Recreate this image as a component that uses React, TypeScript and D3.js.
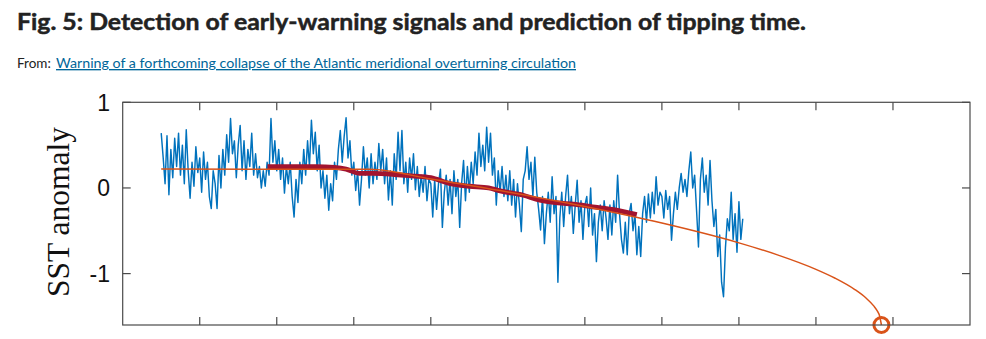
import React from "react";
import * as d3 from "d3";

// ---------- data ----------
const startYear = 1870;
const stepYears = 0.5;
// SST anomaly (fingerprint), half-year samples from 1870.0
const sstValues: number[] = [
  // 1870s
  0.64, 0.36, 0.05, 0.61, -0.08, 0.45, 0.12, 0.58, 0.25, 0.64, 0.15, 0.5, 0.05, 0.68, 0.2, -0.12, 0.3, 0.02, 0.48, 0.18,
  // 1880s
  0.35, -0.05, 0.42, 0.1, 0.3, -0.1, -0.24, 0.2, 0.05, -0.24, 0.38, 0.0, 0.45, 0.15, 0.62, 0.3, 0.81, 0.4, 0.55, 0.12,
  // 1890s
  0.5, 0.73, 0.2, 0.55, 0.1, 0.45, 0.25, 0.64, 0.15, 0.4, 0.12, 0.25, 0.0, 0.2, 0.02, 0.3, 0.15, 0.81, 0.3, 0.55,
  // 1900s
  0.2, 0.45, 0.1, 0.35, -0.06, 0.25, 0.05, 0.3, -0.1, -0.34, 0.1, -0.17, 0.3, 0.05, 0.45, 0.15, 0.55, 0.25, 0.79, 0.4,
  // 1910s
  0.65, 0.2, 0.5, 0.0, 0.2, -0.12, 0.15, -0.26, 0.05, -0.15, 0.3, 0.1, 0.45, 0.67, 0.3, 0.6, 0.82, 0.35, 0.55, 0.15,
  // 1920s
  0.3, -0.03, 0.2, -0.2, 0.1, 0.48, 0.15, 0.35, 0.0, 0.4, 0.05, 0.3, 0.1, 0.52, 0.2, 0.45, 0.05, 0.35, -0.14, 0.2,
  // 1930s
  -0.2, 0.4, 0.1, 0.65, 0.2, 0.67, 0.05, 0.3, -0.05, 0.35, 0.1, 0.4, -0.02, 0.25, -0.1, 0.15, -0.05, 0.25, -0.15, 0.1,
  // 1940s
  0.05, -0.34, 0.1, -0.25, 0.05, 0.22, -0.46, -0.05, 0.15, -0.2, 0.1, -0.3, 0.2, -0.1, 0.1, -0.46, 0.05, 0.32, -0.15, 0.25,
  // 1950s
  -0.05, 0.3, 0.05, 0.42, 0.15, 0.64, 0.25, 0.5, 0.2, 0.71, 0.3, 0.64, 0.15, 0.35, -0.2, 0.2, -0.05, 0.25, -0.1, 0.15,
  // 1960s
  -0.15, 0.2, -0.2, 0.1, -0.34, 0.05, -0.2, -0.51, 0.1, 0.2, 0.48, 0.1, 0.3, -0.1, 0.36, -0.05, -0.25, -0.49, -0.1, -0.65,
  // 1970s
  -0.3, -0.05, -0.4, 0.13, -0.3, -0.1, -1.1, -0.35, -0.05, -0.45, -0.1, 0.15, -0.3, -0.1, -0.53, -0.2, 0.09, -0.4, -0.15, -0.6,
  // 1980s
  -0.2, -0.1, -0.45, 0.0, -0.55, -0.3, -0.86, -0.4, -0.2, -0.5, -0.15, -0.35, -0.6, -0.2, -0.55, -0.15, -0.4, 0.15, -0.3, -0.6,
  // 1990s
  -0.76, -0.4, -0.78, -0.3, -0.18, -0.5, -0.3, -0.78, -0.45, -0.8, -0.3, -0.1, -0.4, -0.07, -0.35, -0.05, -0.3, 0.13, -0.2, -0.05,
  // 2000s
  -0.1, -0.35, -0.03, -0.25, -0.1, -0.61, -0.3, -0.05, -0.25, 0.0, 0.17, -0.05, 0.1, -0.1, 0.2, 0.42, 0.0, 0.15, -0.26, -0.69,
  // 2010s + 2020
  0.1, 0.35, -0.05, 0.15, -0.2, 0.32, -0.15, -0.45, -0.25, -0.8, -0.55, -1.1, -1.27, -0.7, -0.36, -0.5, -0.05, -0.6, -0.3, -0.75,
  -0.16, -0.6, -0.36,
];

// smoothed mean (thick red)
const smoothYears = [1897.6, 1905, 1910, 1915, 1918, 1921.5, 1925, 1930, 1935, 1940, 1945, 1950, 1955, 1958, 1964, 1968, 1973, 1977, 1982, 1987, 1993.5];
const smoothValues = [0.25, 0.25, 0.25, 0.24, 0.22, 0.17, 0.17, 0.16, 0.14, 0.12, 0.05, 0.02, 0.0, -0.035, -0.085, -0.14, -0.175, -0.19, -0.22, -0.25, -0.31];

// fitted model curve (orange)
const fitYears = [1870, 1924, 1940, 1960, 1980, 2000, 2020, 2030, 2040, 2045, 2050, 2053, 2055, 2056, 2056.5, 2057];
const fitValues = [0.22, 0.218, 0.105, -0.047, -0.217, -0.41, -0.641, -0.781, -0.95, -1.054, -1.183, -1.285, -1.377, -1.442, -1.489, -1.6];

// estimated tipping point
const tippingYear = 2057;
const tippingValue = -1.6;

const xTicks = [1880, 1900, 1920, 1940, 1960, 1980, 2000, 2020, 2040, 2060];
const yTicks = [1, 0, -1];
const yTickLabels = ["1", "0", "-1"];

const titleText = "Fig. 5: Detection of early-warning signals and prediction of tipping time.";
const fromLabel = "From: ";
const linkText = "Warning of a forthcoming collapse of the Atlantic meridional overturning circulation";
const yLabel = "SST anomaly";

// ---------- component ----------
export default function App() {
  const W = 986;
  const H = 339;
  const left = 122.7, right = 970, top = 102.3, bottom = 325;

  const x = d3.scaleLinear().domain([1860, 2080]).range([left, right]);
  const y = d3.scaleLinear().domain([-1.6, 1]).range([bottom, top]);

  const sst = sstValues.map((v, i) => [startYear + i * stepYears, v] as [number, number]);
  const lineLin = d3.line<[number, number]>().x((d) => x(d[0])).y((d) => y(d[1]));
  const smoothGen = d3
    .line<[number, number]>()
    .x((d) => x(d[0]))
    .y((d) => y(d[1]))
    .curve(d3.curveMonotoneX);

  const smooth = smoothYears.map((t, i) => [t, smoothValues[i]] as [number, number]);
  const fit = fitYears.map((t, i) => [t, fitValues[i]] as [number, number]);

  const axisColor = "#4a4a4a";
  const tickLen = 8;

  return (
    <svg
      width={W}
      height={H}
      style={{ position: "absolute", left: 0, top: 0, background: "#fff" }}
    >
      <rect x={0} y={0} width={W} height={H} fill="#fff" />
      <text
        x={17}
        y={29.5}
        fontFamily="Lato, 'Noto Sans', sans-serif"
        fontWeight={700}
        fontSize={23.5}
        fill="#222"
        stroke="#222"
        strokeWidth={0.5}
        textLength={789}
        lengthAdjust="spacingAndGlyphs"
      >
        {titleText}
      </text>
      <text x={17} y={68} fontFamily="Lato, 'Noto Sans', sans-serif" fontSize={13.5} fill="#222">
        <tspan>{fromLabel}</tspan>
      </text>
      <text
        x={56}
        y={68}
        fontFamily="Lato, 'Noto Sans', sans-serif"
        fontSize={13.5}
        fill="#006699"
        textDecoration="underline"
        textLength={520}
        lengthAdjust="spacingAndGlyphs"
      >
        {linkText}
      </text>

      {/* data */}
      <g>
        <path d={lineLin(sst) || ""} fill="none" stroke="#0072BD" strokeWidth={1.45} strokeLinejoin="round" />
        <path d={smoothGen(smooth) || ""} fill="none" stroke="#A2142F" strokeWidth={4.8} strokeLinecap="butt" />
        <path d={smoothGen(fit) || ""} fill="none" stroke="#D95319" strokeWidth={1.5} />
        <circle cx={x(tippingYear)} cy={y(tippingValue)} r={7.5} fill="none" stroke="#D95319" strokeWidth={3} />
      </g>

      {/* frame */}
      <rect x={left} y={top} width={right - left} height={bottom - top} fill="none" stroke={axisColor} strokeWidth={1.2} />
      {xTicks.map((t) => (
        <g key={t}>
          <line x1={x(t)} x2={x(t)} y1={bottom} y2={bottom - tickLen} stroke={axisColor} strokeWidth={1.2} />
          <line x1={x(t)} x2={x(t)} y1={top} y2={top + tickLen} stroke={axisColor} strokeWidth={1.2} />
        </g>
      ))}
      {yTicks.map((t, i) => (
        <g key={t}>
          <line x1={left} x2={left + tickLen} y1={y(t)} y2={y(t)} stroke={axisColor} strokeWidth={1.2} />
          <line x1={right} x2={right - tickLen} y1={y(t)} y2={y(t)} stroke={axisColor} strokeWidth={1.2} />
          <text
            x={110}
            y={y(t) + 8.5}
            textAnchor="end"
            fontFamily="'Liberation Sans', Arial, sans-serif"
            fontSize={23}
            fill="#111"
          >
            {yTickLabels[i]}
          </text>
        </g>
      ))}
      <text
        transform={`translate(69, 212) rotate(-90)`}
        textAnchor="middle"
        fontFamily="'Liberation Serif', 'Times New Roman', serif"
        fontSize={31.5}
        fill="#111"
      >
        {yLabel}
      </text>
    </svg>
  );
}
